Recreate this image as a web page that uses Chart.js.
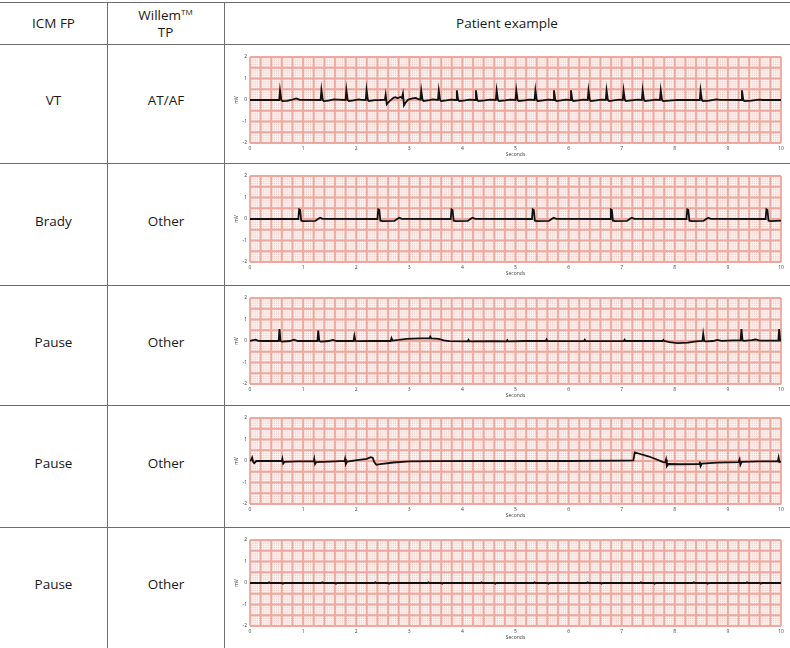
<!DOCTYPE html>
<html>
<head>
<meta charset="utf-8">
<script src="https://cdn.jsdelivr.net/npm/chart.js@4"></script>
<style>
    html, body { margin: 0; padding: 0; background: #fff; }
    #page { position: relative; width: 790px; height: 648px; overflow: hidden; font-family: "Open Sans", "Noto Sans", sans-serif; color: #1a1a1a; }
    .hl { position: absolute; left: 0; width: 790px; height: 1px; background: #6e6e6e; }
    .vl { position: absolute; top: 2px; height: 646px; width: 1px; background: #6e6e6e; }
    .cell { position: absolute; display: flex; align-items: center; justify-content: center; text-align: center; font-size: 13.5px; line-height: 17px; }
    .cell sup { font-size: 8px; line-height: 0; vertical-align: 5px; }
    canvas { position: absolute; }
</style>
</head>
<body>
<div id="page"></div>
<script>
// table text
const headers = ["ICM FP", "Willem<sup>TM</sup><br>TP", "Patient example"]
const icmLabels = ["VT", "Brady", "Pause", "Pause", "Pause"]
const willemLabels = ["AT/AF", "Other", "Other", "Other", "Other"]

// axis tick labels
const yTicks = [-2, -1, 0, 1, 2]
const xTicks = [0, 1, 2, 3, 4, 5, 6, 7, 8, 9, 10]

// ECG traces, [seconds, mV]
const vtTrace = [
    [0, 0], [0.55, 0], [0.565, 0.45], [0.59, 0], [0.61, -0.05], [0.7, -0.04], [0.8, 0.02], [0.87, 0.07], [0.94, 0.01],
    [1.33, 0], [1.345, 0.47], [1.37, 0], [1.39, -0.05], [1.48, -0.03], [1.58, 0.03], [1.65, 0.02],
    [1.8, 0], [1.815, 0.47], [1.84, 0], [1.86, -0.05], [1.95, -0.02], [2.05, 0.03], [2.1, 0.01],
    [2.18, 0], [2.195, 0.47], [2.22, 0], [2.24, -0.05], [2.35, -0.01], [2.45, 0], [2.54, 0.02],
    [2.555, 0.25], [2.575, -0.2], [2.6, -0.12], [2.64, -0.03], [2.7, 0.1], [2.74, 0.13], [2.78, 0.08], [2.83, 0.14], [2.86, 0.1],
    [2.88, 0.3], [2.9, -0.25], [2.93, -0.12], [2.98, 0.02], [3.06, 0.08], [3.12, 0.1], [3.17, 0.04], [3.21, 0.02],
    [3.225, 0.45], [3.25, 0], [3.27, -0.05], [3.38, -0.01], [3.44, 0.03], [3.54, 0],
    [3.555, 0.45], [3.58, 0], [3.6, -0.05], [3.7, -0.02], [3.78, 0.02], [3.88, 0],
    [3.895, 0.45], [3.92, 0], [3.94, -0.05], [4.05, -0.02], [4.13, 0.02], [4.24, 0],
    [4.255, 0.45], [4.28, 0], [4.3, -0.05], [4.42, -0.02], [4.52, 0.02], [4.63, 0],
    [4.645, 0.45], [4.67, 0], [4.69, -0.05], [4.8, -0.02], [4.9, 0.02], [5.0, 0],
    [5.015, 0.45], [5.04, 0], [5.06, -0.05], [5.17, -0.02], [5.26, 0.02], [5.36, 0],
    [5.375, 0.45], [5.4, 0], [5.42, -0.05], [5.52, -0.02], [5.62, 0.02], [5.71, 0],
    [5.725, 0.45], [5.75, 0], [5.77, -0.05], [5.86, -0.02], [5.95, 0.02], [6.03, 0],
    [6.045, 0.45], [6.07, 0], [6.09, -0.05], [6.18, -0.02], [6.28, 0.02], [6.36, 0],
    [6.375, 0.45], [6.4, 0], [6.42, -0.05], [6.52, -0.02], [6.62, 0.02], [6.7, 0],
    [6.715, 0.45], [6.74, 0], [6.76, -0.05], [6.85, -0.02], [6.95, 0.02], [7.02, 0],
    [7.035, 0.45], [7.06, 0], [7.08, -0.05], [7.18, -0.02], [7.3, 0.02], [7.38, 0],
    [7.395, 0.45], [7.42, 0], [7.44, -0.05], [7.54, -0.02], [7.64, 0.02], [7.72, 0],
    [7.735, 0.45], [7.76, 0], [7.78, -0.05], [7.9, -0.03], [8.05, 0.01], [8.47, 0],
    [8.485, 0.45], [8.51, 0], [8.53, -0.05], [8.65, -0.03], [8.78, 0.03], [8.85, 0.01], [9.25, 0],
    [9.265, 0.45], [9.29, 0], [9.31, -0.05], [9.45, -0.03], [9.58, 0.02], [9.65, 0], [10, 0]
]

const bradyTrace = [
    [0, 0], [0.91, 0], [0.925, 0.45], [0.945, 0.42], [0.965, -0.08], [1.01, -0.1], [1.23, -0.09], [1.28, 0], [1.32, 0.06], [1.37, 0.01],
    [2.4, 0], [2.415, 0.45], [2.435, 0.42], [2.455, -0.08], [2.5, -0.1], [2.72, -0.09], [2.77, 0], [2.81, 0.06], [2.86, 0.01],
    [3.78, 0], [3.795, 0.45], [3.815, 0.42], [3.835, -0.08], [3.88, -0.1], [4.1, -0.09], [4.15, 0], [4.19, 0.06], [4.24, 0.01],
    [5.31, 0], [5.325, 0.45], [5.345, 0.42], [5.365, -0.08], [5.41, -0.1], [5.63, -0.09], [5.68, 0], [5.72, 0.06], [5.77, 0.01],
    [6.78, 0], [6.795, 0.45], [6.815, 0.42], [6.835, -0.08], [6.88, -0.1], [7.1, -0.09], [7.15, 0], [7.19, 0.06], [7.24, 0.01],
    [8.22, 0], [8.235, 0.45], [8.255, 0.42], [8.275, -0.08], [8.32, -0.1], [8.54, -0.09], [8.59, 0], [8.63, 0.06], [8.68, 0.01],
    [9.71, 0], [9.725, 0.45], [9.745, 0.42], [9.765, -0.08], [9.81, -0.1], [10, -0.08]
]

const pauseTraceA = [
    [0, 0], [0.04, 0.03], [0.1, 0.06], [0.16, 0.01], [0.25, 0],
    [0.54, 0], [0.555, 0.55], [0.575, 0], [0.6, -0.03], [0.75, 0], [0.83, 0.06], [0.9, 0],
    [1.27, 0], [1.285, 0.48], [1.305, 0], [1.33, -0.03], [1.48, 0], [1.56, 0.05], [1.63, 0],
    [1.95, 0], [1.965, 0.24], [1.985, 0], [2.05, -0.01], [2.3, 0],
    [2.65, 0], [2.665, 0.13], [2.685, 0.02], [2.8, 0.05], [2.95, 0.1], [3.2, 0.12],
    [3.38, 0.12], [3.395, 0.2], [3.415, 0.12], [3.55, 0.1], [3.65, 0.03], [3.75, -0.01],
    [4.1, -0.02], [4.115, 0.05], [4.13, -0.02], [4.6, -0.01],
    [4.83, -0.02], [4.845, 0.04], [4.86, -0.02], [5.2, 0],
    [5.57, 0], [5.585, 0.07], [5.6, 0], [6.0, -0.01],
    [6.29, 0], [6.305, 0.06], [6.32, 0], [6.7, -0.01],
    [7.04, 0], [7.055, 0.06], [7.07, 0], [7.4, 0],
    [7.77, 0], [7.785, 0.05], [7.8, 0], [7.9, -0.05], [8.05, -0.1], [8.25, -0.08], [8.4, -0.02],
    [8.52, 0], [8.535, 0.33], [8.555, 0], [8.58, -0.02], [8.72, 0], [8.8, 0.05], [8.88, 0.01], [9.1, 0.03],
    [9.24, 0.03], [9.255, 0.55], [9.275, 0.03], [9.3, 0.01], [9.45, 0.04], [9.52, 0.07], [9.6, 0.02],
    [9.95, 0.02], [9.965, 0.55], [9.985, 0.02], [10, 0.02]
]

const pauseTraceB = [
    [0, 0], [0.02, 0.05], [0.04, 0.16], [0.06, -0.05], [0.08, -0.1], [0.12, 0],
    [0.6, 0], [0.61, 0.1], [0.625, -0.12], [0.65, -0.04], [0.9, -0.02],
    [1.2, -0.01], [1.21, 0.1], [1.225, -0.14], [1.25, -0.05], [1.5, -0.03],
    [1.78, 0], [1.79, 0.1], [1.805, -0.14], [1.83, -0.03], [2.05, 0.05], [2.2, 0.1], [2.27, 0.18], [2.31, 0.15],
    [2.34, -0.05], [2.38, -0.18], [2.45, -0.15], [2.7, -0.07], [3.0, -0.02], [3.5, -0.01], [4.5, 0], [6, 0], [7.0, 0.02],
    [7.22, 0.03], [7.245, 0.4], [7.3, 0.36], [7.5, 0.22], [7.65, 0.08], [7.78, -0.05],
    [7.82, -0.06], [7.835, 0.07], [7.85, -0.24], [7.88, -0.14], [8.1, -0.15],
    [8.46, -0.14], [8.47, -0.03], [8.485, -0.24], [8.51, -0.12], [8.8, -0.08],
    [9.2, -0.05], [9.22, 0.08], [9.235, -0.18], [9.26, -0.04], [9.6, -0.02],
    [9.94, -0.02], [9.955, 0.16], [9.97, -0.05], [10, -0.02]
]

const pauseTraceC = [
    [0, 0], [0.34, 0], [0.36, 0.03], [0.38, 0], [0.6, 0], [0.62, -0.03], [0.64, 0],
    [1.34, 0], [1.36, 0.03], [1.38, 0], [1.6, 0], [1.62, -0.03], [1.64, 0],
    [2.34, 0], [2.36, 0.03], [2.38, 0], [2.6, 0], [2.62, -0.03], [2.64, 0],
    [3.34, 0], [3.36, 0.03], [3.38, 0], [3.6, 0], [3.62, -0.03], [3.64, 0],
    [4.34, 0], [4.36, 0.03], [4.38, 0], [4.6, 0], [4.62, -0.03], [4.64, 0],
    [5.34, 0], [5.36, 0.03], [5.38, 0], [5.6, 0], [5.62, -0.03], [5.64, 0],
    [6.34, 0], [6.36, 0.03], [6.38, 0], [6.6, 0], [6.62, -0.03], [6.64, 0],
    [7.34, 0], [7.36, 0.03], [7.38, 0], [7.6, 0], [7.62, -0.03], [7.64, 0],
    [8.34, 0], [8.36, 0.03], [8.38, 0], [8.6, 0], [8.62, -0.03], [8.64, 0],
    [9.34, 0], [9.36, 0.03], [9.38, 0], [9.6, 0], [9.62, -0.03], [9.64, 0], [10, 0]
]

const traces = [vtTrace, bradyTrace, pauseTraceA, pauseTraceB, pauseTraceC]

// layout of the table
const rowTops = [44, 163, 285, 405, 527]
const pageBottom = 648
const colX = [0, 107, 224, 790]

const PAPER = "#f5cbc4"
const MINOR = "#fdf3f1"
const MAJOR = "#eda99f"

const page = document.getElementById("page")

const addDiv = (cls, style, html) => {
    const d = document.createElement("div")
    d.className = cls
    Object.assign(d.style, style)
    if (html) d.innerHTML = "<span>" + html + "</span>"
    page.appendChild(d)
    return d
}

// lines
addDiv("hl", { top: "2px" })
rowTops.forEach((t) => addDiv("hl", { top: t + "px" }))
addDiv("vl", { left: colX[1] + "px" })
addDiv("vl", { left: colX[2] + "px" })

// header
headers.forEach((h, i) => {
    addDiv("cell", { left: colX[i] + "px", width: colX[i + 1] - colX[i] + "px", top: "3px", height: "41px" }, h)
})

// ECG paper: pink fill, light minor grid, darker major grid
const ecgPaper = {
    id: "ecgPaper",
    beforeDatasetsDraw(chart) {
        const { ctx, chartArea: a, scales: { x, y } } = chart
        ctx.save()
        ctx.fillStyle = PAPER
        ctx.fillRect(a.left, a.top, a.right - a.left, a.bottom - a.top)
        const drawLines = (major) => {
            ctx.beginPath()
            for (let i = 0; i <= 250; i++) {
                if ((i % 5 === 0) !== major) continue
                const px = x.getPixelForValue(i * 0.04)
                ctx.moveTo(px, a.top)
                ctx.lineTo(px, a.bottom)
            }
            for (let j = 0; j <= 40; j++) {
                if ((j % 5 === 0) !== major) continue
                const py = y.getPixelForValue(-2 + j * 0.1)
                ctx.moveTo(a.left, py)
                ctx.lineTo(a.right, py)
            }
            ctx.stroke()
        }
        ctx.strokeStyle = MINOR
        ctx.lineWidth = 1
        drawLines(false)
        ctx.strokeStyle = MAJOR
        ctx.lineWidth = 1.8
        drawLines(true)
        ctx.restore()
    },
}

const tickFont = { family: "Open Sans", size: 5 }

rowTops.forEach((top, i) => {
    const bottom = i < rowTops.length - 1 ? rowTops[i + 1] : pageBottom

    addDiv("cell", { left: "0px", width: colX[1] + "px", top: top + "px", height: bottom - top - 6 + "px" }, icmLabels[i])
    addDiv("cell", { left: colX[1] + 1 + "px", width: colX[2] - colX[1] - 1 + "px", top: top + "px", height: bottom - top - 6 + "px" }, willemLabels[i])

    const H = bottom - top - 1
    const canvas = document.createElement("canvas")
    canvas.width = 564
    canvas.height = H
    canvas.style.left = "226px"
    canvas.style.top = top + 1 + "px"
    page.appendChild(canvas)

    new Chart(canvas.getContext("2d"), {
        type: "line",
        data: {
            datasets: [
                {
                    data: traces[i].map(([t, v]) => ({ x: t, y: v })),
                    borderColor: "#111",
                    borderWidth: 1.8,
                    pointRadius: 0,
                    tension: 0,
                },
            ],
        },
        plugins: [ecgPaper],
        options: {
            responsive: false,
            animation: false,
            events: [],
            layout: { padding: { left: 8, right: 9, top: 12, bottom: H - 12 - 86 - 15 } },
            plugins: { legend: { display: false }, tooltip: { enabled: false } },
            scales: {
                x: {
                    type: "linear",
                    min: 0,
                    max: 10,
                    afterBuildTicks: (s) => { s.ticks = xTicks.map((v) => ({ value: v })) },
                    afterFit: (s) => { s.height = 15 },
                    grid: { display: false, drawTicks: false },
                    border: { display: false },
                    ticks: { font: tickFont, color: "#444", padding: 3, maxRotation: 0, autoSkip: false },
                    title: { display: true, text: "Seconds", font: tickFont, color: "#444", padding: 0 },
                },
                y: {
                    min: -2,
                    max: 2,
                    afterBuildTicks: (s) => { s.ticks = yTicks.map((v) => ({ value: v })) },
                    afterFit: (s) => { s.width = 16 },
                    grid: { display: false, drawTicks: false },
                    border: { display: false },
                    ticks: { font: tickFont, color: "#444", padding: 3 },
                    title: { display: true, text: "mV", font: tickFont, color: "#444", padding: 0 },
                },
            },
        },
    })
})
</script>
</body>
</html>
